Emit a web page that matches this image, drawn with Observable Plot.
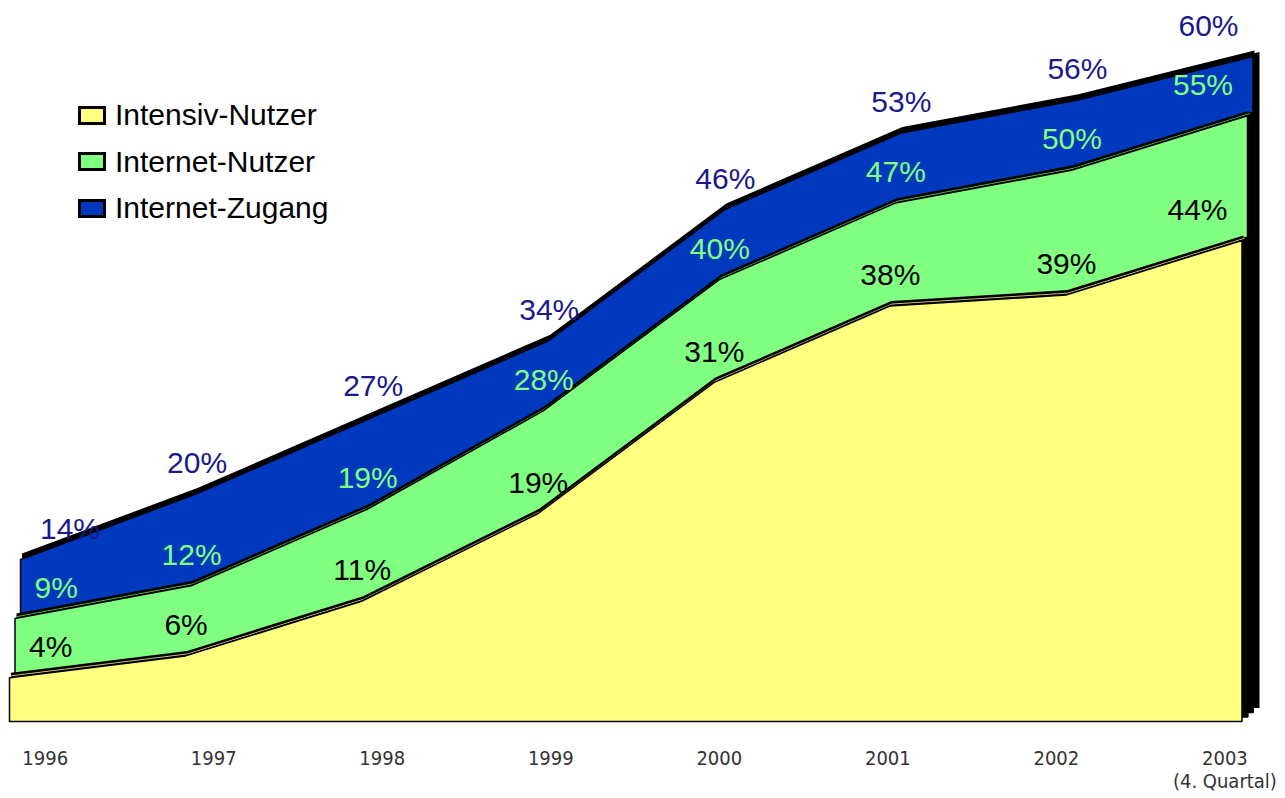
<!DOCTYPE html>
<html>
<head>
<meta charset="utf-8">
<script src="https://cdn.jsdelivr.net/npm/d3@7"></script>
<script src="https://cdn.jsdelivr.net/npm/@observablehq/plot@0.6"></script>
<style>
  html, body { margin: 0; padding: 0; background: #fff; }
  #wrap { position: relative; width: 1285px; height: 798px; overflow: hidden; }
  #legend { position: absolute; left: 78px; top: 101px; font-family: "Liberation Sans", Arial, sans-serif; font-size: 30px; color: #000; }
  .row { display: flex; align-items: center; height: 28px; margin-bottom: 18.5px; }
  .sw { width: 28px; height: 19px; box-sizing: border-box; border: 3px solid #000; margin-right: 9px; }
</style>
</head>
<body>
<div id="wrap"><div id="legend"></div></div>
<script>
// ---- data ----
const years = [1996, 1997, 1998, 1999, 2000, 2001, 2002, 2003];
const zugang = [14, 20, 27, 34, 46, 53, 56, 60];     // Internet-Zugang
const nutzer = [9, 12, 19, 28, 40, 47, 50, 55];      // Internet-Nutzer
const intensiv = [4, 6, 11, 19, 31, 38, 39, 44];     // Intensiv-Nutzer
const xTickLabels = ["1996", "1997", "1998", "1999", "2000", "2001", "2002", "2003\n(4. Quartal)"];
const seriesNames = ["Intensiv-Nutzer", "Internet-Nutzer", "Internet-Zugang"];

// ---- styles ----
const fills = ["#FFFF80", "#80FF80", "#0039BE"];
const mids = ["#C8C070", "#50B050", "#000000"];
const labelColors = ["#000000", "#80FF80", "#1A1A8A"];
const step = [5.5, -4.5];   // 3-D depth offset between ribbons (px)

const seriesValues = [intensiv, nutzer, zugang];
const series = seriesValues.map((vals, k) =>
  years.map((year, i) => ({year, value: vals[i], k}))
);

const font = '"Liberation Sans", Arial, sans-serif';
const marks = [];

// draw back (k=2) to front (k=0)
for (let k = 2; k >= 0; k--) {
  const data = series[k];
  const ox = k * step[0], oy = k * step[1];
  // shadow / depth (top surface + right side)
  marks.push(Plot.areaY(data, {x: "year", y: "value", fill: "#000", dx: ox + step[0] + 1, dy: oy + step[1]}));
  marks.push(Plot.areaY(data, {x: "year", y: "value", fill: "#000", dx: ox + 1.5, dy: oy - (k === 2 ? 6 : 5)}));
  if (k < 2) {
    marks.push(Plot.lineY(data, {x: "year", y: "value", stroke: mids[k], strokeWidth: 1, dx: ox + 1.5, dy: oy - 2.5}));
  }
  // front face
  marks.push(Plot.areaY(data, {x: "year", y: "value", fill: fills[k], stroke: "#000", strokeWidth: 1.5, strokeLinejoin: "miter", dx: ox, dy: oy}));
}

// value labels
for (let k = 0; k < 3; k++) {
  const data = series[k];
  const ox = k * step[0], oy = k * step[1];
  const common = {x: "year", y: "value", text: d => d.value + "%", fill: labelColors[k],
    fontSize: 30, fontFamily: font, dy: oy - 31};
  marks.push(Plot.text(data.slice(1, -1), {...common, dx: ox}));
  marks.push(Plot.text(data.slice(0, 1), {...common, dx: ox + 19, textAnchor: "start"}));
  marks.push(Plot.text(data.slice(-1), {...common, dx: ox - 15, textAnchor: "end"}));
}

// category labels on the floor (floor spans a slightly narrower range than the front face)
const floorX = d3.scaleLinear([1996, 2003], [1996.2, 2002.9]);
marks.push(Plot.text(years, {
  x: d => floorX(d), y: () => 0, text: (d, i) => xTickLabels[i],
  lineAnchor: "top", dy: 27, fontSize: 20, lineHeight: 1.15,
  fontFamily: '"Liberation Sans Narrow", "DejaVu Sans Condensed", "Liberation Sans", sans-serif',
  fill: "#333"
}));

const chart = Plot.plot({
  width: 1285,
  height: 798,
  marginLeft: 9.5,
  marginRight: 43,
  marginTop: 65.5,
  marginBottom: 76.5,
  x: {domain: [1996, 2003], axis: null},
  y: {domain: [0, 60], axis: null},
  style: {background: "#fff", overflow: "visible"},
  marks
});
const wrap = document.getElementById("wrap");
wrap.insertBefore(chart, wrap.firstChild);

// legend
const legend = document.getElementById("legend");
seriesNames.forEach((name, k) => {
  const row = document.createElement("div");
  row.className = "row";
  const sw = document.createElement("div");
  sw.className = "sw";
  sw.style.background = fills[k];
  const t = document.createElement("span");
  t.textContent = name;
  row.appendChild(sw);
  row.appendChild(t);
  legend.appendChild(row);
});
</script>
</body>
</html>
